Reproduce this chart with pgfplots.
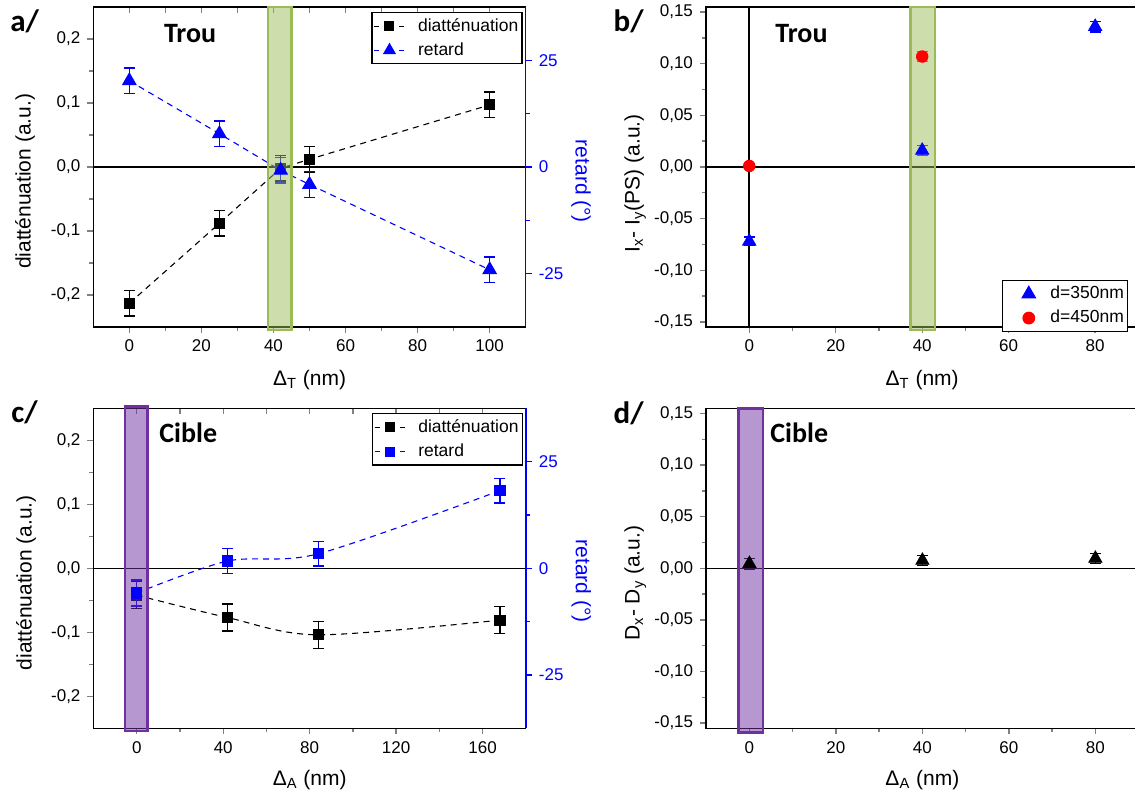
\documentclass[border=0pt]{standalone}
\usepackage{pgfplots}
\pgfplotsset{compat=1.18}
\usepackage{fontspec}
\setmainfont{Liberation Sans}
\newfontfamily\carlito{Carlito}
\definecolor{boxgreen}{HTML}{9BBB59}
\definecolor{boxpurple}{HTML}{7030A0}
\pgfplotsset{
 base/.style={
  scale only axis, width=216.2pt, height=160pt, anchor=south west, clip=false,
  axis line style={line width=0.75pt, -},
  tick style={line width=0.7pt},
  major tick length=3pt, minor tick length=2pt,
  tick align=outside,
  tick label style={font=\fontsize{8.5}{10}\selectfont},
  label style={font=\fontsize{10.5}{12}\selectfont},
  /pgf/number format/assume math mode=true,
  /pgf/number format/use comma,
  /pgf/number format/fixed,
  /pgf/number format/fixed zerofill,
  scaled ticks=false,
  legend style={font=\fontsize{8.75}{10}\selectfont, draw=black, line width=0.6pt, legend cell align=left,
    inner xsep=1pt, inner ysep=2pt, row sep=2.6pt, nodes={inner sep=0.8pt}},
 },
 dashleg/.style={legend image code/.code={
   \draw[##1, solid] (0pt,0pt) -- (2.5pt,0pt);
   \draw[##1, solid] (12.5pt,0pt) -- (15pt,0pt);
   \draw[##1, solid, draw opacity=0] plot coordinates {(7.5pt,0pt)};
   \path[draw=none, fill=none] (0pt,0pt) -- (21pt,0pt);}},
 markleg/.style={legend image code/.code={
   \draw[##1] plot coordinates {(12pt,0pt)};
   \path[draw=none, fill=none] (0pt,0pt) -- (22pt,0pt);}},
 ebar/.style={/pgfplots/error bars/y dir=both, /pgfplots/error bars/y explicit,
   /pgfplots/error bars/error bar style={line width=0.75pt, solid},
   /pgfplots/error bars/error mark options={rotate=90, mark size=2.75pt, line width=0.75pt, solid}},
 dline/.style={line width=0.55pt, dash pattern=on 3pt off 2.5pt},
}
\begin{document}
\begin{tikzpicture}
% ---------------- panel a ----------------
\begin{axis}[base, at={(46.65pt,237pt)},
 xmin=-10, xmax=110, ymin=-0.25, ymax=0.25,
 axis x line*=bottom, axis y line*=left,
 xtick={0,20,...,100}, minor x tick num=1,
 ytick={-0.2,-0.1,0,0.1,0.2}, minor y tick num=1,
 xticklabel style={/pgf/number format/precision=0},
 yticklabel style={/pgf/number format/precision=1},
 xlabel={Δ\textsubscript{T} (nm)}, ylabel={diatténuation (a.u.)},
 xlabel style={at={(axis description cs:0.5,-0.166)}, anchor=center},
 ylabel style={at={(axis description cs:-0.158,0.455)}, anchor=center}]
\draw[line width=0.75pt] (axis cs:-10,0) -- (axis cs:110,0);
\addplot[black, dline, mark=square*, mark size=2.5pt, mark options={solid}, ebar] coordinates {
 (0,-0.213) +- (0,0.02) (25,-0.088) +- (0,0.02) (42,-0.002) +- (0,0.02) (50,0.012) +- (0,0.02) (100,0.097) +- (0,0.02)};
\end{axis}
\begin{axis}[base, at={(46.65pt,237pt)}, xmin=-10, xmax=110, ymin=0, ymax=1,
 axis y line=none, axis x line*=top, xtick={0,10,...,100}, xticklabels={}, tick align=inside]
\end{axis}
\begin{axis}[base, at={(46.65pt,237pt)}, xmin=-10, xmax=110, ymin=-37.5, ymax=37.5,
 axis x line=none, axis y line*=right, y axis line style={blue},
 ytick={-25,0,25}, minor y tick num=1, tick style={blue, line width=0.7pt},
 yticklabel style={blue, /pgf/number format/precision=0},
 ylabel={retard (°)}, ylabel style={blue, at={(axis description cs:1.128,0.455)}, anchor=center, rotate=180},
 dashleg,
 legend style={at={(axis description cs:0.9926,0.9844)}, anchor=north east}]
\addlegendimage{black, dline, mark=square*, mark size=2.5pt, mark options={solid}}
\addlegendentry{diatténuation}
\addplot[blue, dline, mark=triangle*, mark size=3.8pt, mark options={solid}, ebar] coordinates {
 (0,20.2) +- (0,3) (25,7.8) +- (0,3) (42,-0.8) +- (0,3) (50,-4.1) +- (0,3) (100,-24.1) +- (0,3)};
\addlegendentry{retard}
\fill[boxgreen, fill opacity=0.5] (axis cs:38.5,-38.2) rectangle (axis cs:45,37.5);
\draw[boxgreen, line width=1.25pt] (axis cs:38.5,-38.2) rectangle (axis cs:45,37.5);
\end{axis}
% ---------------- panel b ----------------
\begin{axis}[base, at={(353pt,237pt)},
 xmin=-10, xmax=90, ymin=-0.155, ymax=0.155,
 xtick pos=left, ytick pos=left,
 xtick={0,20,...,80}, minor x tick num=1,
 ytick={-0.15,-0.1,-0.05,0,0.05,0.1,0.15}, minor y tick num=1,
 xticklabel style={/pgf/number format/precision=0},
 yticklabel style={/pgf/number format/precision=2},
 xlabel={Δ\textsubscript{T} (nm)}, ylabel={I\textsubscript{x}- I\textsubscript{y}(PS) (a.u.)},
 xlabel style={at={(axis description cs:0.5,-0.166)}, anchor=center},
 ylabel style={at={(axis description cs:-0.164,0.449)}, anchor=center},
 markleg,
 legend style={at={(axis description cs:0.685,0.147)}, anchor=north west}]
\draw[line width=0.75pt] (axis cs:-10,0) -- (axis cs:90,0);
\draw[line width=0.75pt] (axis cs:0,-0.155) -- (axis cs:0,0.155);
\addplot[only marks, blue, mark=triangle*, mark size=3.8pt, ebar] coordinates {
 (0,-0.072) +- (0,0.004) (40,0.016) +- (0,0.005) (80,0.136) +- (0,0.005)};
\addlegendentry{d=350nm}
\addplot[only marks, red, mark=*, mark size=2.9pt, ebar] coordinates {
 (0,0.001) +- (0,0.002) (40,0.107) +- (0,0.005)};
\addlegendentry{d=450nm}
\fill[boxgreen, fill opacity=0.5] (axis cs:37.3,-0.158) rectangle (axis cs:43,0.155);
\draw[boxgreen, line width=1.25pt] (axis cs:37.3,-0.158) rectangle (axis cs:43,0.155);
\end{axis}
% ---------------- panel c ----------------
\begin{axis}[base, at={(46.75pt,36.35pt)},
 xmin=-20, xmax=180, ymin=-0.25, ymax=0.25,
 axis x line*=bottom, axis y line*=left,
 xtick={0,40,...,160}, minor x tick num=1,
 ytick={-0.2,-0.1,0,0.1,0.2}, minor y tick num=1,
 xticklabel style={/pgf/number format/precision=0},
 yticklabel style={/pgf/number format/precision=1},
 xlabel={Δ\textsubscript{A} (nm)}, ylabel={diatténuation (a.u.)},
 xlabel style={at={(axis description cs:0.5,-0.162)}, anchor=center},
 ylabel style={at={(axis description cs:-0.156,0.455)}, anchor=center}]
\draw[line width=0.75pt] (axis cs:-20,0) -- (axis cs:180,0);
\addplot[black, dline, smooth, mark=square*, mark size=2.5pt, mark options={solid}, ebar] coordinates {
 (0,-0.042) +- (0,0.021) (42,-0.077) +- (0,0.021) (84,-0.104) +- (0,0.021) (168,-0.081) +- (0,0.021)};
\end{axis}
\begin{axis}[base, at={(46.75pt,36.35pt)}, xmin=-20, xmax=180, ymin=0, ymax=1,
 axis y line=none, axis x line*=top, xtick={0,20,...,160}, xticklabels={}, tick align=inside]
\end{axis}
\begin{axis}[base, at={(46.75pt,36.35pt)}, xmin=-20, xmax=180, ymin=-37.5, ymax=37.5,
 axis x line=none, axis y line*=right, y axis line style={blue},
 ytick={-25,0,25}, minor y tick num=1, tick style={blue, line width=0.7pt},
 yticklabel style={blue, /pgf/number format/precision=0},
 ylabel={retard (°)}, ylabel style={blue, at={(axis description cs:1.128,0.46)}, anchor=center, rotate=180},
 dashleg,
 legend style={at={(axis description cs:0.9926,0.9844)}, anchor=north east}]
\addlegendimage{black, dline, mark=square*, mark size=2.5pt, mark options={solid}}
\addlegendentry{diatténuation}
\addplot[blue, dline, smooth, mark=square*, mark size=2.5pt, mark options={solid}, ebar] coordinates {
 (0,-5.8) +- (0,3) (42,1.7) +- (0,2.9) (84,3.4) +- (0,2.9) (168,18.2) +- (0,2.9)};
\addlegendentry{retard}
\fill[boxpurple, fill opacity=0.5] (axis cs:-5.5,-38.1) rectangle (axis cs:5,37.9);
\draw[boxpurple, line width=1.25pt] (axis cs:-5.5,-38.1) rectangle (axis cs:5,37.9);
\end{axis}
% ---------------- panel d ----------------
\begin{axis}[base, at={(353.1pt,36.35pt)},
 xmin=-10, xmax=90, ymin=-0.155, ymax=0.155,
 xtick pos=left, ytick pos=left,
 xtick={0,20,...,80}, minor x tick num=1,
 ytick={-0.15,-0.1,-0.05,0,0.05,0.1,0.15}, minor y tick num=1,
 xticklabel style={/pgf/number format/precision=0},
 yticklabel style={/pgf/number format/precision=2},
 xlabel={Δ\textsubscript{A} (nm)}, ylabel={D\textsubscript{x}- D\textsubscript{y} (a.u.)},
 xlabel style={at={(axis description cs:0.5,-0.162)}, anchor=center},
 ylabel style={at={(axis description cs:-0.164,0.454)}, anchor=center}]
\draw[line width=0.75pt] (axis cs:-10,0) -- (axis cs:90,0);
\addplot[only marks, black, mark=triangle*, mark size=3.8pt, ebar] coordinates {
 (0,0.0045) +- (0,0.005) (40,0.0075) +- (0,0.005) (80,0.0095) +- (0,0.005)};
\fill[boxpurple, fill opacity=0.5] (axis cs:-2.5,-0.159) rectangle (axis cs:3.1,0.155);
\draw[boxpurple, line width=1.25pt] (axis cs:-2.5,-0.159) rectangle (axis cs:3.1,0.155);
\end{axis}
% ---------------- panel letters and titles ----------------
\begin{scope}[every node/.style={font=\carlito\bfseries\fontsize{15.5}{17}\selectfont, inner sep=0pt, anchor=base west}]
\node at (5pt,384.65pt) {a/};
\node at (306.6pt,384.65pt) {b/};
\node at (5.5pt,189pt) {c/};
\node at (306.6pt,188.85pt) {d/};
\end{scope}
\begin{scope}[every node/.style={font=\carlito\bfseries\fontsize{14}{16}\selectfont, inner sep=0pt, anchor=base west}]
\node at (81.8pt,379pt) {Trou};
\node at (387.5pt,379pt) {Trou};
\node at (79.5pt,179pt) {Cible};
\node at (385pt,179pt) {Cible};
\end{scope}
\pgfresetboundingbox
\path[use as bounding box] (0,0) rectangle (567.5pt,400.5pt);
\end{tikzpicture}
\end{document}
